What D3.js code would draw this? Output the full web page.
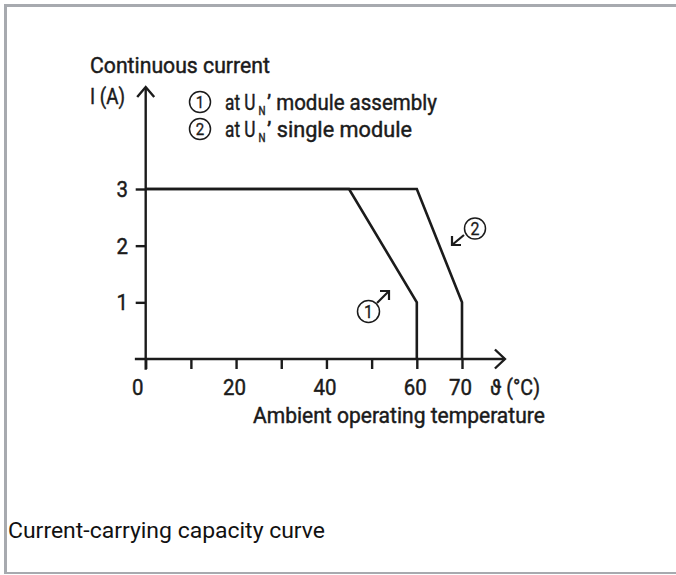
<!DOCTYPE html>
<html><head><meta charset="utf-8">
<script src="https://cdn.jsdelivr.net/npm/d3@7"></script>
<style>
html,body{margin:0;padding:0;background:#fff;}
svg{display:block;}
</style></head>
<body>
<svg id="chart" width="676" height="575"></svg>
<script>
// ---- data ----
const xTicks = [0, 10, 20, 30, 40, 50, 60, 70];
const xTickLabels = ["0", "", "20", "", "40", "", "60", "70"];
const yTicks = [1, 2, 3];
const yTickLabels = ["1", "2", "3"];
const assemblyTemp = [0, 45, 60, 60];
const assemblyCurrent = [3, 3, 1, 0];
const singleTemp = [0, 60, 70, 70];
const singleCurrent = [3, 3, 1, 0];
const legendLabels = ["module assembly", "single module"];
const yTitle = ["Continuous current", "I (A)"];
const xUnit = "ϑ (°C)";
const xTitle = "Ambient operating temperature";
const caption = "Current-carrying capacity curve";

const svg = d3.select("#chart");
const ink = "#1b1b1b";
const font = "Roboto, 'Liberation Sans', sans-serif";
const thick = 0.45;

// frame
const frame = "#a7aaaf";
svg.append("rect").attr("x",4).attr("y",4).attr("width",672).attr("height",3).attr("fill",frame);
svg.append("rect").attr("x",4).attr("y",4).attr("width",3).attr("height",570).attr("fill",frame);
svg.append("rect").attr("x",4).attr("y",572).attr("width",672).attr("height",2).attr("fill",frame);

const x = d3.scaleLinear().domain([0,70]).range([145.7,462]);
const y = d3.scaleLinear().domain([0,3]).range([359,189]);

const g = svg.append("g");

// text compressed horizontally to a target width via a transform
function label(px, py, str, size, width, anchor, sw){
  const grp = g.append("g");
  const t = grp.append("text").attr("x",0).attr("y",0).attr("font-family",font)
    .attr("font-size",size).attr("fill",ink)
    .attr("stroke",ink).attr("stroke-width",sw===undefined?thick:sw).text(str);
  const nat = t.node().getComputedTextLength();
  const sx = width ? width / nat : 1;
  const w = nat * sx;
  let ox = px;
  if (anchor === "middle") ox = px - w/2;
  else if (anchor === "end") ox = px - w;
  grp.attr("transform", `translate(${ox},${py}) scale(${sx},1)`);
  return grp;
}

// axis lines with arrows
const sw = 2.4;
g.append("line").attr("x1",x(-2.4)).attr("x2",x(79.5)).attr("y1",y(0)).attr("y2",y(0))
 .attr("stroke",ink).attr("stroke-width",sw);
g.append("path").attr("d",`M${x(79.5)-10},${y(0)-9.5}L${x(79.5)},${y(0)}L${x(79.5)-10},${y(0)+9.5}`)
 .attr("fill","none").attr("stroke",ink).attr("stroke-width",sw);
g.append("line").attr("x1",x(0)).attr("x2",x(0)).attr("y1",y(-0.19)).attr("y2",y(4.8))
 .attr("stroke",ink).attr("stroke-width",sw);
g.append("path").attr("d",`M${x(0)-8.5},${y(4.8)+10}L${x(0)},${y(4.8)}L${x(0)+8.5},${y(4.8)+10}`)
 .attr("fill","none").attr("stroke",ink).attr("stroke-width",sw);

// ticks via d3 axes
const xAxis = d3.axisBottom(x).tickValues(xTicks).tickSize(10).tickFormat("");
const gx = g.append("g").attr("transform",`translate(0,${y(0)})`).call(xAxis);
gx.select(".domain").remove();
gx.selectAll(".tick line").attr("stroke",ink).attr("stroke-width",sw);

const yAxis = d3.axisLeft(y).tickValues(yTicks).tickSize(10).tickFormat("");
const gy = g.append("g").attr("transform",`translate(${x(0)},0)`).call(yAxis);
gy.select(".domain").remove();
gy.selectAll(".tick line").attr("stroke",ink).attr("stroke-width",sw);

// tick labels
xTicks.forEach((d,i)=>{
  if (!xTickLabels[i]) return;
  const w = xTickLabels[i].length * 11.5;
  label(x(d)+(d===0?-8:-1.5), y(0)+36, xTickLabels[i], 22, w, "middle");
});
label(490, y(0)+36, xUnit, 22, 50);
yTicks.forEach((d,i)=>{ label(128, y(d)+8, yTickLabels[i], 22, 11.5, "end"); });

// titles
label(90, 73, yTitle[0], 22, 180);
label(90, 104, yTitle[1], 22, 35);
label(253, 423, xTitle, 22, 292);

// curves
const line = d3.line().x(d=>x(d[0])).y(d=>y(d[1]));
const s1 = assemblyTemp.map((t,i)=>[t,assemblyCurrent[i]]);
const s2 = singleTemp.map((t,i)=>[t,singleCurrent[i]]);
[s2,s1].forEach(s=>{
  g.append("path").attr("d",line(s)).attr("fill","none").attr("stroke",ink)
   .attr("stroke-width",2.6).attr("stroke-linejoin","miter");
});

// circled number helper
function circled(cx, cy, r, lab, fs){
  g.append("circle").attr("cx",cx).attr("cy",cy).attr("r",r).attr("fill","none")
   .attr("stroke",ink).attr("stroke-width",1.5);
  label(cx, cy+fs*0.36, lab, fs, fs*0.5, "middle", thick*0.7);
}

// legend: circled number, "at U", subscript N, apostrophe + label
const legY = [102, 129];
const legW = [162, 137];
legendLabels.forEach((lab,i)=>{
  const by = legY[i] + 8;
  circled(200, legY[i], 10.5, String(i+1), 17);
  label(225, by, "at U", 22, 30.5);
  label(258.5, by + 5, "N", 12, 7);
  label(267, by, "’ " + lab, 22, legW[i] + 8);
});

// annotations on curves
circled(368.5, 311.5, 11, "1", 18);
g.append("path").attr("d","M377,303L389,291").attr("stroke",ink).attr("stroke-width",2.2).attr("fill","none");
g.append("path").attr("d","M380,291L389,291L389,300").attr("stroke",ink).attr("stroke-width",2.2).attr("fill","none");

circled(475, 228.5, 10.5, "2", 18);
g.append("path").attr("d","M464,235L452,245").attr("stroke",ink).attr("stroke-width",2.2).attr("fill","none");
g.append("path").attr("d","M452,236L452,245L461,245").attr("stroke",ink).attr("stroke-width",2.2).attr("fill","none");

// caption
svg.append("text").attr("x",8).attr("y",538).attr("font-family","Roboto, 'Liberation Sans', sans-serif")
 .attr("font-size",22).attr("fill","#111").attr("textLength",317).attr("lengthAdjust","spacingAndGlyphs")
 .text(caption);
</script>
</body></html>
